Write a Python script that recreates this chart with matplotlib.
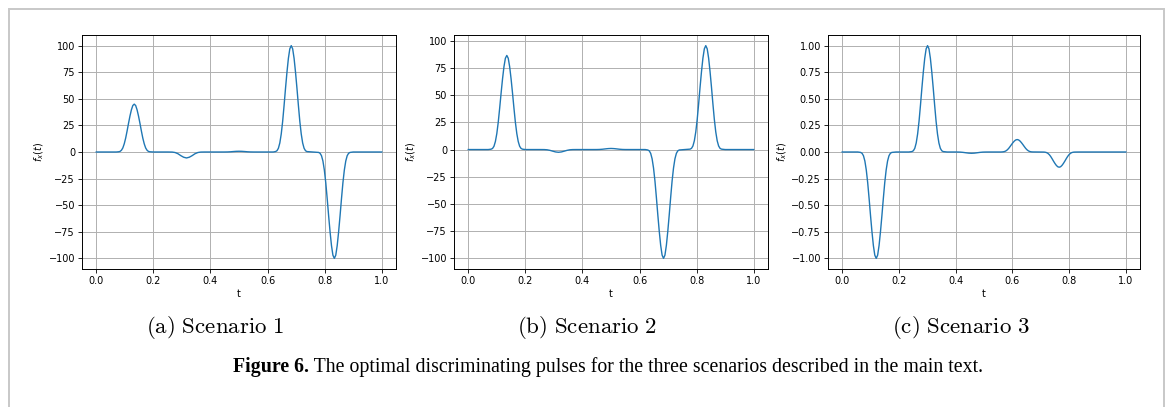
import matplotlib
matplotlib.use("Agg")
import matplotlib.pyplot as plt
from matplotlib.ticker import MultipleLocator
from matplotlib.patches import Rectangle

# ---------------- data ----------------
t_s1 = [0.0, 0.07,
        0.078, 0.083, 0.088, 0.093, 0.098, 0.103, 0.108, 0.113, 0.118, 0.123, 0.128, 0.133,
        0.138, 0.143, 0.148, 0.153, 0.158, 0.163, 0.168, 0.173, 0.178, 0.183, 0.188,
        0.20, 0.25,
        0.266, 0.276, 0.286, 0.296, 0.306, 0.316, 0.326, 0.336, 0.346, 0.356, 0.366,
        0.38, 0.44,
        0.45, 0.46, 0.47, 0.48, 0.49, 0.50, 0.51, 0.52, 0.53, 0.54, 0.55,
        0.56, 0.62,
        0.628, 0.633, 0.638, 0.643, 0.648, 0.653, 0.658, 0.663, 0.668, 0.673, 0.678, 0.683,
        0.688, 0.693, 0.698, 0.703, 0.708, 0.713, 0.718, 0.723, 0.728, 0.733, 0.738,
        0.758,
        0.779, 0.784, 0.789, 0.794, 0.799, 0.804, 0.809, 0.814, 0.819, 0.824, 0.829, 0.834,
        0.839, 0.844, 0.849, 0.854, 0.859, 0.864, 0.869, 0.874, 0.879, 0.884, 0.889,
        0.90, 1.0]
f_s1 = [0.0, 0.0,
        0.2, 0.5, 1.6, 3.8, 7.7, 13.1, 19.8, 27.0, 33.8, 39.6, 43.7, 45.0,
        43.7, 39.6, 33.8, 27.0, 19.8, 13.1, 7.7, 3.8, 1.6, 0.5, 0.2,
        0.0, 0.0,
        -0.07, -0.48, -1.6, -3.4, -4.9, -5.6, -4.9, -3.4, -1.6, -0.48, -0.07,
        0.0, 0.0,
        0.01, 0.06, 0.2, 0.42, 0.62, 0.7, 0.62, 0.42, 0.2, 0.06, 0.01,
        0.0, 0.0,
        0.4, 1.2, 3.5, 8.5, 17, 29, 44, 60, 75, 88, 97, 100,
        97, 88, 75, 60, 44, 29, 17, 8.5, 3.5, 1.2, 0.4,
        0.0,
        -0.4, -1.2, -3.5, -8.5, -17, -29, -44, -60, -75, -88, -97, -100,
        -97, -88, -75, -60, -44, -29, -17, -8.5, -3.5, -1.2, -0.4,
        0.0, 0.0]

t_s2 = [0.0, 0.07,
        0.080, 0.085, 0.090, 0.095, 0.100, 0.105, 0.110, 0.115, 0.120, 0.125, 0.130, 0.135,
        0.140, 0.145, 0.150, 0.155, 0.160, 0.165, 0.170, 0.175, 0.180, 0.185, 0.190,
        0.20, 0.25,
        0.266, 0.276, 0.286, 0.296, 0.306, 0.316, 0.326, 0.336, 0.346, 0.356, 0.366,
        0.38, 0.44,
        0.45, 0.46, 0.47, 0.48, 0.49, 0.50, 0.51, 0.52, 0.53, 0.54, 0.55,
        0.56, 0.62,
        0.629, 0.634, 0.639, 0.644, 0.649, 0.654, 0.659, 0.664, 0.669, 0.674, 0.679, 0.684,
        0.689, 0.694, 0.699, 0.704, 0.709, 0.714, 0.719, 0.724, 0.729, 0.734, 0.739,
        0.758,
        0.777, 0.782, 0.787, 0.792, 0.797, 0.802, 0.807, 0.812, 0.817, 0.822, 0.827, 0.832,
        0.837, 0.842, 0.847, 0.852, 0.857, 0.862, 0.867, 0.872, 0.877, 0.882, 0.887,
        0.90, 1.0]
f_s2 = [0.0, 0.0,
        0.35, 1.0, 3.0, 7.4, 14.7, 25.1, 38.1, 51.9, 64.9, 76.1, 83.9, 86.5,
        83.9, 76.1, 64.9, 51.9, 38.1, 25.1, 14.7, 7.4, 3.0, 1.0, 0.35,
        0.0, 0.0,
        -0.03, -0.21, -0.73, -1.5, -2.2, -2.5, -2.2, -1.5, -0.73, -0.21, -0.03,
        0.0, 0.0,
        0.01, 0.09, 0.29, 0.6, 0.88, 1.0, 0.88, 0.6, 0.29, 0.09, 0.01,
        0.0, 0.0,
        -0.4, -1.2, -3.5, -8.5, -17, -29, -44, -60, -75, -88, -97, -100,
        -97, -88, -75, -60, -44, -29, -17, -8.5, -3.5, -1.2, -0.4,
        0.0,
        0.38, 1.1, 3.3, 8.1, 16.2, 27.7, 42.0, 57.3, 71.6, 84.0, 92.6, 95.5,
        92.6, 84.0, 71.6, 57.3, 42.0, 27.7, 16.2, 8.1, 3.3, 1.1, 0.38,
        0.0, 0.0]

t_s3 = [0.0, 0.055,
        0.065, 0.070, 0.075, 0.080, 0.085, 0.090, 0.095, 0.100, 0.105, 0.110, 0.115, 0.120,
        0.125, 0.130, 0.135, 0.140, 0.145, 0.150, 0.155, 0.160, 0.165, 0.170, 0.175,
        0.19, 0.235,
        0.246, 0.251, 0.256, 0.261, 0.266, 0.271, 0.276, 0.281, 0.286, 0.291, 0.296, 0.301,
        0.306, 0.311, 0.316, 0.321, 0.326, 0.331, 0.336, 0.341, 0.346, 0.351, 0.356,
        0.37, 0.396,
        0.406, 0.416, 0.426, 0.436, 0.446, 0.456, 0.466, 0.476, 0.486, 0.496, 0.506,
        0.52, 0.56,
        0.562, 0.567, 0.572, 0.577, 0.582, 0.587, 0.592, 0.597, 0.602, 0.607, 0.612, 0.617,
        0.622, 0.627, 0.632, 0.637, 0.642, 0.647, 0.652, 0.657, 0.662, 0.667, 0.672,
        0.69,
        0.710, 0.715, 0.720, 0.725, 0.730, 0.735, 0.740, 0.745, 0.750, 0.755, 0.760, 0.765,
        0.770, 0.775, 0.780, 0.785, 0.790, 0.795, 0.800, 0.805, 0.810, 0.815, 0.820,
        0.835, 1.0]
f_s3 = [0.0, 0.0,
        -0.004, -0.012, -0.035, -0.085, -0.17, -0.29, -0.44, -0.60, -0.75, -0.88, -0.97, -1.0,
        -0.97, -0.88, -0.75, -0.60, -0.44, -0.29, -0.17, -0.085, -0.035, -0.012, -0.004,
        0.0, 0.0,
        0.004, 0.012, 0.035, 0.085, 0.17, 0.29, 0.44, 0.60, 0.75, 0.88, 0.97, 1.0,
        0.97, 0.88, 0.75, 0.60, 0.44, 0.29, 0.17, 0.085, 0.035, 0.012, 0.004,
        0.0, 0.0,
        -0.0002, -0.001, -0.0035, -0.0072, -0.0106, -0.012, -0.0106, -0.0072, -0.0035, -0.001, -0.0002,
        0.0, 0.0,
        0.0005, 0.0014, 0.0041, 0.0099, 0.0199, 0.0339, 0.0515, 0.0702, 0.0878, 0.103, 0.1135, 0.117,
        0.1135, 0.103, 0.0878, 0.0702, 0.0515, 0.0339, 0.0199, 0.0099, 0.0041, 0.0014, 0.0005,
        0.0,
        -0.0006, -0.0017, -0.005, -0.0122, -0.0243, -0.0415, -0.0629, -0.0858, -0.1073, -0.1258, -0.1387, -0.143,
        -0.1387, -0.1258, -0.1073, -0.0858, -0.0629, -0.0415, -0.0243, -0.0122, -0.005, -0.0017, -0.0006,
        0.0, 0.0]

subcaptions = [r"$\mathrm{(a)\ Scenario\ 1}$", r"$\mathrm{(b)\ Scenario\ 2}$",
               r"$\mathrm{(c)\ Scenario\ 3}$"]
caption_bold = "Figure 6."
caption_rest = " The optimal discriminating pulses for the three scenarios described in the main text."

# ---------------- figure ----------------
W, H = 1166, 407
fig = plt.figure(figsize=(W / 100, H / 100), dpi=100)

# outer frame
fig.patches.append(Rectangle((9 / W, -0.05), (1164 - 9) / W, 1 - 9 / H + 0.05,
                             transform=fig.transFigure, fill=False,
                             edgecolor="#c8c8c8", linewidth=1.4))

ax_boxes = [(82, 396), (454, 768), (828, 1140)]
series = [(t_s1, f_s1), (t_s2, f_s2), (t_s3, f_s3)]
ystep = [25, 25, 0.25]
cap_x = [215, 587, 961]

for (x0, x1), (tt, ff), ys, cx, sc in zip(ax_boxes, series, ystep, cap_x, subcaptions):
    ax = fig.add_axes([x0 / W, 1 - 269 / H, (x1 - x0) / W, (269 - 35) / H])
    ax.plot(tt, ff, color="#1f77b4", linewidth=1.0)
    ax.grid(True, color="#b0b0b0", linewidth=0.7)
    ax.set_axisbelow(True)
    ax.xaxis.set_major_locator(MultipleLocator(0.2))
    ax.yaxis.set_major_locator(MultipleLocator(ys))
    ax.tick_params(labelsize=7, length=3, width=0.6, pad=2)
    for s in ax.spines.values():
        s.set_linewidth(0.7)
    ax.set_xlabel("t", fontsize=7, labelpad=2)
    ax.set_ylabel("$f_x(t)$", fontsize=7, labelpad=2)
    fig.text(cx / W, 1 - 327.5 / H, sc, ha="center", va="center",
             math_fontfamily="cm", fontsize=16.5)

fig.canvas.draw()
r = fig.canvas.get_renderer()
tb = fig.text(0, 1 - 372 / H, caption_bold, ha="left", va="baseline",
              family="Liberation Serif", fontweight="bold", fontsize=14.3)
tr = fig.text(0, 1 - 372 / H, caption_rest, ha="left", va="baseline",
              family="Liberation Serif", fontsize=14.3)
wb = tb.get_window_extent(r).width
wr = tr.get_window_extent(r).width
start = 608 - (wb + wr) / 2
tb.set_x(start / W)
tr.set_x((start + wb) / W)

fig.savefig("out.png", dpi=100)
